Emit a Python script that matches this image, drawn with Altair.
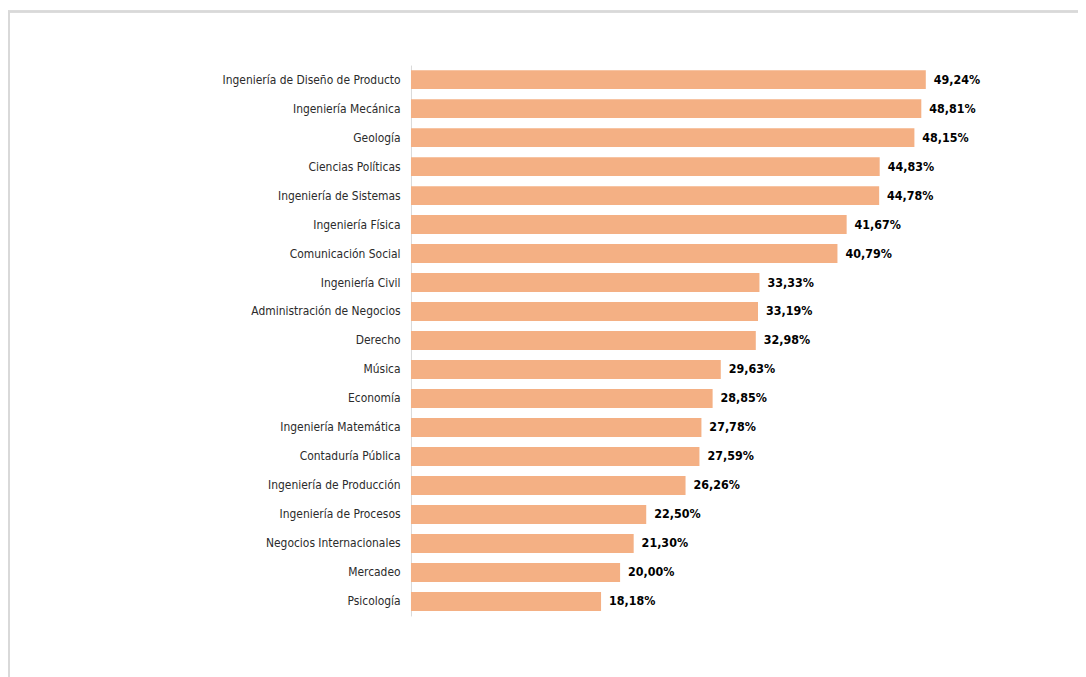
import altair as alt
import pandas as pd

categories = [
    "Ingeniería de Diseño de Producto", "Ingeniería Mecánica", "Geología",
    "Ciencias Políticas", "Ingeniería de Sistemas", "Ingeniería Física",
    "Comunicación Social", "Ingeniería Civil", "Administración de Negocios",
    "Derecho", "Música", "Economía", "Ingeniería Matemática",
    "Contaduría Pública", "Ingeniería de Producción", "Ingeniería de Procesos",
    "Negocios Internacionales", "Mercadeo", "Psicología",
]
values = [49.24, 48.81, 48.15, 44.83, 44.78, 41.67, 40.79, 33.33, 33.19,
          32.98, 29.63, 28.85, 27.78, 27.59, 26.26, 22.50, 21.30, 20.00, 18.18]

df = pd.DataFrame({
    "cat": categories,
    "val": values,
    "label": [f"{v:.2f}".replace(".", ",") + "%" for v in values],
})

FONT = "'DejaVu Sans Condensed', 'Liberation Sans', sans-serif"
PL, PT = 406, 55

y = alt.Y("cat:N", sort=categories, title=None,
          scale=alt.Scale(paddingInner=0.35, paddingOuter=0.175, round=False),
          axis=alt.Axis(domainColor="#D9D9D9", domainWidth=1, ticks=False,
                        labelFont=FONT, labelFontSize=12, labelColor="#2b2b2b",
                        labelPadding=11, labelLimit=400))
x = alt.X("val:Q", title=None, scale=alt.Scale(domain=[0, 60], nice=False),
          axis=None)

bars = alt.Chart(df).mark_bar(color="#F4B084").encode(x=x, y=y)
text = alt.Chart(df).mark_text(align="left", dx=8, font=FONT, fontSize=12.5,
                               fontWeight="bold", color="#000000").encode(
    x=x, y=y, text="label:N")

frame = alt.Chart(df).mark_rect(fill=None, stroke="#D9D9D9", strokeWidth=1.5,
                                clip=False).encode(
    x=alt.value(-PL + 1), x2=alt.value(700), y=alt.value(-PT + 1), y2=alt.value(640))

chart = alt.layer(frame, bars, text).properties(
    width=632, height=555,
    autosize=alt.AutoSizeParams(type="none"),
    padding={"left": PL, "top": PT, "right": 40, "bottom": 60},
).configure_view(stroke=None)

chart.save("out.html", embed_options={"renderer": "svg", "actions": False})
